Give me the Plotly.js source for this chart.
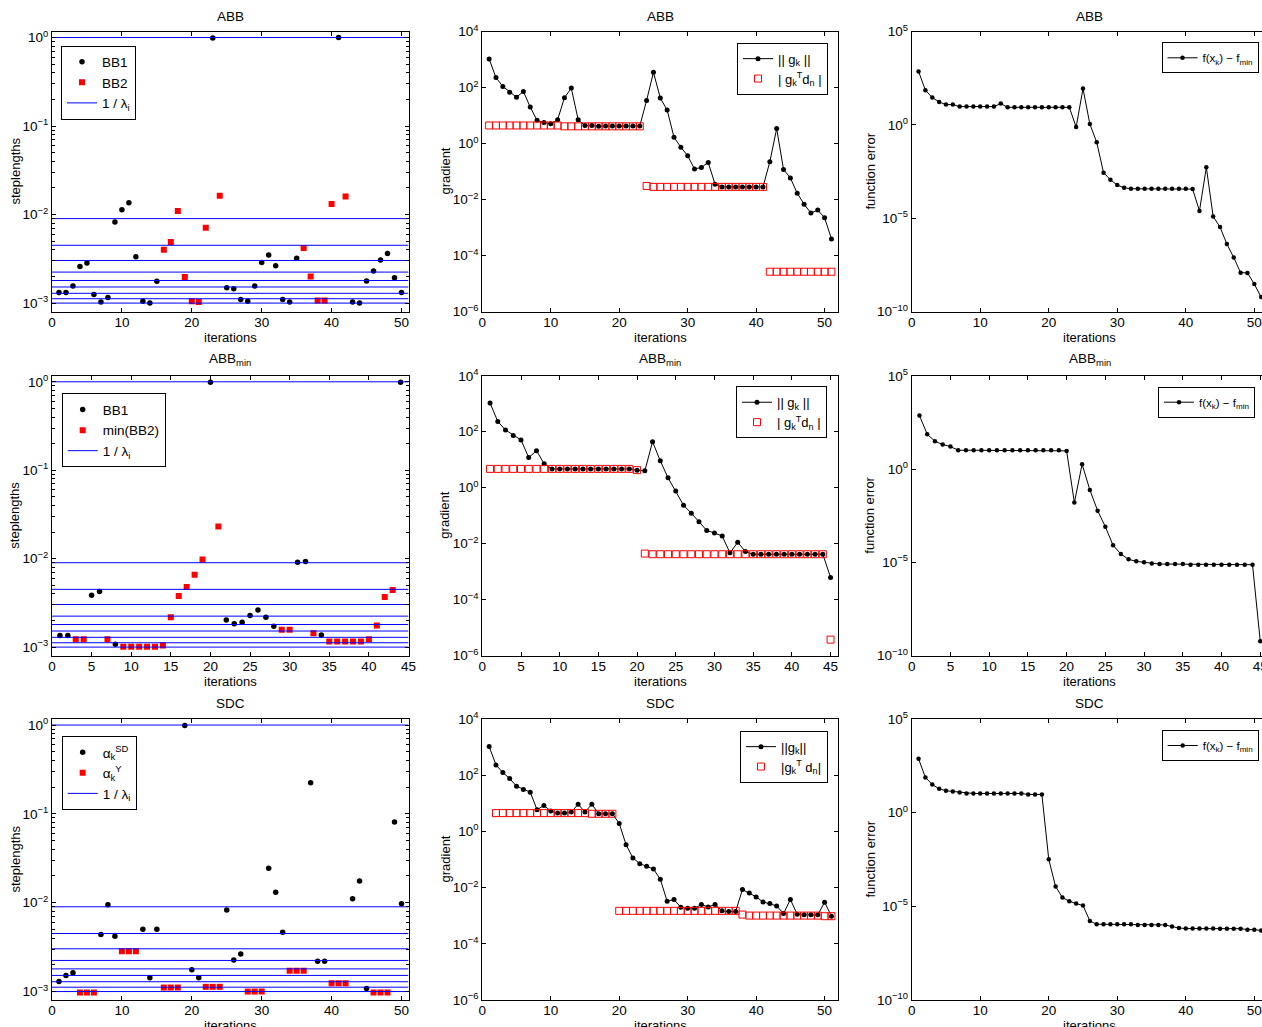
<!DOCTYPE html>
<html>
<head>
<meta charset="utf-8">
<script src="https://cdn.plot.ly/plotly-3.0.1.min.js"></script>
<style>
html,body{margin:0;padding:0;overflow:hidden;background:#ffffff;}
#chart{width:1270px;height:1027px;}
</style>
</head>
<body>
<div id="chart"></div>
<script>
// ---------------- DATA ----------------
// inverse eigenvalues 1/lambda_i (horizontal reference lines)
const invEig = [1.0, 0.009, 0.0045, 0.00303, 0.00224, 0.0018, 0.00152, 0.00129, 0.00112, 0.001];

// ABB – steplengths
const abbBB1x = [1,2,3,4,5,6,7,8,9,10,11,12,13,14,15,23,25,26,27,28,29,30,31,32,33,34,35,41,43,44,45,46,47,48,49,50];
const abbBB1y = [0.00132,0.00132,0.00156,0.00259,0.00283,0.00125,0.00103,0.00116,0.00822,0.0113,0.0136,0.00334,0.00105,0.001,0.00177,0.99,0.00149,0.00145,0.0011,0.00105,0.00156,0.00288,0.00349,0.00264,0.0011,0.00103,0.0032,1.0,0.00103,0.001,0.00178,0.0023,0.00306,0.00364,0.00193,0.00132];
const abbBB2x = [16,17,18,19,20,21,22,24,36,37,38,39,40,42];
const abbBB2y = [0.00401,0.00489,0.011,0.00197,0.00105,0.00103,0.0071,0.0163,0.00418,0.002,0.00107,0.00107,0.0132,0.016];

// ABB – gradient
const abbGradNorm = [1040,226,109,68,45,72,20,6.7,5.6,5.1,7.1,43,95,7.1,4.35,4.35,4.1,4.2,4.2,4.2,4.2,4.2,4.2,34.5,350,42,15.7,1.68,0.74,0.365,0.123,0.14,0.21,0.035,0.0282,0.0282,0.0282,0.0282,0.0282,0.0282,0.0282,0.223,3.4,0.119,0.0588,0.0168,0.00683,0.00327,0.00418,0.00223,0.000391];
const abbGTd = [4.4,4.4,4.4,4.4,4.4,4.4,4.4,4.4,4.4,4.4,4.4,4.1,4.1,4.1,4.1,4.1,4.1,4.1,4.1,4.1,4.1,4.1,4.1,0.0305,0.0282,0.0282,0.0282,0.0282,0.0282,0.0282,0.0282,0.0282,0.0282,0.0282,0.0282,0.0282,0.0282,0.0282,0.0282,0.0282,0.0282,2.63e-5,2.63e-5,2.63e-5,2.63e-5,2.63e-5,2.63e-5,2.63e-5,2.63e-5,2.63e-5,2.63e-5];

// ABB – function error
const abbFerr = [728,71.8,28.9,16.9,12.1,12.1,9.5,9.5,9.5,9.5,9.5,9.5,13.7,8.7,8.7,8.7,8.7,8.7,8.7,8.7,8.7,8.7,8.7,0.76,88,1.1,0.118,0.00274,0.00115,5.9e-4,4.26e-4,3.76e-4,3.76e-4,3.76e-4,3.76e-4,3.76e-4,3.76e-4,3.76e-4,3.76e-4,3.76e-4,3.6e-4,2.45e-5,0.0053,1.21e-5,3.37e-6,4.1e-7,7.8e-8,1.2e-8,1.17e-8,2.98e-9,5.9e-10];

// ABBmin – steplengths
const abbmBB1x = [1,2,5,6,8,20,22,23,24,25,26,27,28,31,32,34,44];
const abbmBB1y = [0.00135,0.00135,0.00385,0.00424,0.00108,0.99,0.00202,0.00184,0.00191,0.00227,0.00263,0.00217,0.00172,0.00912,0.00927,0.00137,0.99];
const abbmBB2x = [3,4,7,9,10,11,12,13,14,15,16,17,18,19,21,29,30,33,35,36,37,38,39,40,41,42,43];
const abbmBB2y = [0.00123,0.00123,0.00123,0.00101,0.00101,0.00101,0.00101,0.00101,0.00104,0.00217,0.00379,0.00479,0.0066,0.00977,0.0231,0.00157,0.00157,0.00143,0.00116,0.00116,0.00116,0.00116,0.00116,0.00123,0.00175,0.00369,0.00443];

// ABBmin – gradient
const abbmGradNorm = [1070,233,115,74,51,11.9,21,7.1,4.7,4.7,4.7,4.7,4.7,4.7,4.7,4.7,4.7,4.7,4.7,4.24,4.0,44,9.1,2.26,0.76,0.236,0.123,0.06,0.0297,0.0239,0.0187,0.00467,0.0111,0.0052,0.00418,0.00418,0.00418,0.00418,0.00418,0.00418,0.00418,0.00418,0.00418,0.00418,6.2e-4];
const abbmGTd = [4.7,4.7,4.7,4.7,4.7,4.7,4.7,4.7,4.7,4.7,4.7,4.7,4.7,4.7,4.7,4.7,4.7,4.7,4.7,4.24,0.00442,0.00418,0.00418,0.00418,0.00418,0.00418,0.00418,0.00418,0.00418,0.00418,0.00418,0.00418,0.00418,0.00418,0.00418,0.00418,0.00418,0.00418,0.00418,0.00418,0.00418,0.00418,0.00418,0.00418,3.7e-6];

// ABBmin – function error
const abbmFerr = [741,73.8,31,20.6,16,10.2,10.2,10.2,10.2,10.2,10.2,10.2,10.2,10.2,10.2,10.2,10.2,10.2,10.2,9.4,0.0158,1.81,0.0757,0.00587,8.1e-4,8.1e-5,2.77e-5,1.43e-5,1.12e-5,9.9e-6,8.7e-6,8.0e-6,8.0e-6,8.0e-6,8.0e-6,7.4e-6,7.4e-6,7.4e-6,7.4e-6,7.4e-6,7.4e-6,7.4e-6,7.4e-6,7.4e-6,5.9e-10];

// SDC – steplengths
const sdcSDx = [1,2,3,7,8,9,13,14,15,19,20,21,25,26,27,31,32,33,37,38,39,43,44,45,49,50];
const sdcSDy = [0.0013,0.00152,0.00163,0.00438,0.0095,0.0042,0.00504,0.00143,0.00504,0.99,0.00176,0.00143,0.00826,0.00226,0.00265,0.0245,0.0131,0.00466,0.224,0.0022,0.0022,0.0111,0.0176,0.00108,0.0811,0.00975];
const sdcYx = [4,5,6,10,11,12,16,17,18,22,23,24,28,29,30,34,35,36,40,41,42,46,47,48];
const sdcYy = [0.000975,0.000975,0.000975,0.00284,0.00284,0.00284,0.00111,0.00111,0.00111,0.00113,0.00113,0.00113,0.001,0.001,0.001,0.00171,0.00171,0.00171,0.00124,0.00124,0.00124,0.000975,0.000975,0.000975];

// SDC – gradient
const sdcGradNorm = [1040,233,124,76,40.7,31,24.9,5.9,8.4,5.3,4.48,4.48,4.86,9.3,4.86,9.3,4.24,4.24,4.24,1.92,0.336,0.113,0.0711,0.0572,0.046,0.0198,0.00327,0.00375,0.002,0.00185,0.00185,0.00249,0.00206,0.00249,0.00149,0.00141,0.00141,0.0085,0.00647,0.00467,0.0031,0.0027,0.00223,0.00119,0.00375,0.00113,0.00107,0.00107,0.00107,0.00301,0.00096];
const sdcGTdx = [2,3,4,5,6,7,8,9,10,11,12,13,14,15,16,17,18,19,20,21,22,23,24,25,26,27,28,29,30,31,32,33,34,35,36,37,38,39,40,41,42,43,44,45,46,47,48,49,50,51];
const sdcGTd = [4.48,4.48,4.48,4.48,4.48,4.48,4.48,4.48,4.48,4.48,4.48,4.48,4.48,4.48,4.24,4.24,4.24,4.24,0.00149,0.00149,0.00149,0.00149,0.00149,0.00149,0.00149,0.00149,0.00149,0.00149,0.00149,0.00149,0.00149,0.00149,0.00149,0.00149,0.00149,0.00149,0.0011,0.00101,0.00101,0.00101,0.00101,0.00101,0.00101,0.00101,0.00101,0.00101,0.00101,0.00101,0.00096,0.00096];

// SDC – function error
const sdcFerr = [759,76,32,18.9,14.8,13.6,12,10.6,10.6,10.6,10.6,10.6,10.6,10.6,10.6,10.6,9.4,9.4,9.4,0.00329,1.14e-4,2.94e-5,1.87e-5,1.41e-5,1.1e-5,1.67e-6,1.1e-6,1.1e-6,1.1e-6,1.1e-6,1.1e-6,1.1e-6,1.02e-6,1.02e-6,1.02e-6,1.02e-6,1.02e-6,8.3e-7,7.0e-7,6.5e-7,6.5e-7,6.5e-7,6.5e-7,6.5e-7,6.4e-7,6.4e-7,6.4e-7,6.4e-7,5.7e-7,5.7e-7,5.1e-7];

// tick labels
const ySteplenTicks = [0.001, 0.01, 0.1, 1];
const ySteplenText = ['10<sup>−3</sup>','10<sup>−2</sup>','10<sup>−1</sup>','10<sup>0</sup>'];
const ySteplenMinor = [0.002,0.003,0.004,0.005,0.006,0.007,0.008,0.009,0.02,0.03,0.04,0.05,0.06,0.07,0.08,0.09,0.2,0.3,0.4,0.5,0.6,0.7,0.8,0.9];
const yGradTicks = [1e-6, 1e-4, 1e-2, 1, 1e2, 1e4];
const yGradText = ['10<sup>−6</sup>','10<sup>−4</sup>','10<sup>−2</sup>','10<sup>0</sup>','10<sup>2</sup>','10<sup>4</sup>'];
const yFerrTicks = [1e-10, 1e-5, 1, 1e5];
const yFerrText = ['10<sup>−10</sup>','10<sup>−5</sup>','10<sup>0</sup>','10<sup>5</sup>'];

const rowTitles = ['ABB', 'ABB<sub>min</sub>', 'SDC'];
const colYLabels = ['steplengths', 'gradient', 'function error'];
const xLabel = 'iterations';

// ---------------- LAYOUT ----------------
const FONT = '"Liberation Sans", Arial, Helvetica, sans-serif';
const W = 1270, H = 1027;
const colPx = [[52, 408.5], [482.3, 838.3], [911.7, 1268]];
const rowPx = [[31.5, 311.5], [375.8, 655.5], [719, 1000]];
const xRanges = [[[0,51],[0,52],[0,52]], [[0,45],[0,46],[0,46]], [[0,51],[0,52],[0,52]]];
const xDticks = [10, 5, 10];
const yRanges = [[-3.095, 0.068], [-6, 4], [-10, 5]];
const yTicks = [ySteplenTicks, yGradTicks, yFerrTicks];
const yTexts = [ySteplenText, yGradText, yFerrText];

const layout = {
  width: W, height: H,
  margin: {l:0, r:0, t:0, b:0},
  paper_bgcolor: '#ffffff', plot_bgcolor: '#ffffff',
  font: {family: FONT, size: 13, color: '#000000'},
  showlegend: true,
  annotations: []
};

function sfx(r, c) { const i = r*3 + c + 1; return i === 1 ? '' : String(i); }

for (let r = 0; r < 3; r++) {
  for (let c = 0; c < 3; c++) {
    const s = sfx(r, c);
    layout['xaxis' + s] = {
      domain: [colPx[c][0]/W, colPx[c][1]/W], anchor: 'y' + s,
      range: xRanges[r][c], tick0: 0, dtick: xDticks[r],
      ticks: 'inside', ticklen: 4, tickwidth: 1, tickcolor: '#000',
      showline: true, linecolor: '#000', linewidth: 1, mirror: 'ticks',
      showgrid: false, zeroline: false, tickfont: {size: 13.5},
      ticklabelstandoff: -2
    };
    const ya = {
      domain: [1 - rowPx[r][1]/H, 1 - rowPx[r][0]/H], anchor: 'x' + s,
      type: 'log', range: yRanges[c],
      tickmode: 'array', tickvals: yTicks[c], ticktext: yTexts[c],
      ticks: 'inside', ticklen: 4, tickwidth: 1, tickcolor: '#000',
      showline: true, linecolor: '#000', linewidth: 1, mirror: 'ticks',
      showgrid: false, zeroline: false, tickfont: {size: 13.5}
    };
    if (c === 0) {
      ya.minor = {tickmode: 'array', tickvals: ySteplenMinor, ticks: 'inside', ticklen: 2.5, tickcolor: '#000', showgrid: false};
    }
    layout['yaxis' + s] = ya;

    // subplot title
    layout.annotations.push({
      text: rowTitles[r], xref: 'paper', yref: 'paper',
      x: (colPx[c][0] + colPx[c][1]) / 2 / W, y: 1 - (rowPx[r][0] - 6) / H,
      xanchor: 'center', yanchor: 'bottom', showarrow: false,
      font: {size: 13.5}
    });
    // x label
    layout.annotations.push({
      text: xLabel, xref: 'paper', yref: 'paper',
      x: (colPx[c][0] + colPx[c][1]) / 2 / W, y: 1 - (rowPx[r][1] + 25.5) / H,
      xanchor: 'center', yanchor: 'middle', showarrow: false,
      font: {size: 13}
    });
    // y label
    const ylx = [15, 445, 870][c];
    layout.annotations.push({
      text: colYLabels[c], xref: 'paper', yref: 'paper', textangle: -90,
      x: ylx / W, y: 1 - (rowPx[r][0] + rowPx[r][1]) / 2 / H,
      xanchor: 'center', yanchor: 'middle', showarrow: false,
      font: {size: 13}
    });
  }
}

// legends
const legendBase = {bgcolor: '#ffffff', bordercolor: '#000', borderwidth: 1, tracegroupgap: 0, traceorder: 'normal'};
const legendPos = [
  {x: 61, y: 45.5, xa: 'left', fs: 13.5},
  {x: 828, y: 42.7, xa: 'right', fs: 13},
  {x: 1258.5, y: 42.3, xa: 'right', fs: 11.5},
  {x: 61.7, y: 393.3, xa: 'left', fs: 13.5},
  {x: 827, y: 386.3, xa: 'right', fs: 13},
  {x: 1255, y: 386.7, xa: 'right', fs: 11.5},
  {x: 61.7, y: 736, xa: 'left', fs: 13.5},
  {x: 828, y: 730.7, xa: 'right', fs: 13},
  {x: 1258.7, y: 730, xa: 'right', fs: 11.5}
];
legendPos.forEach((p, i) => {
  const key = i === 0 ? 'legend' : 'legend' + (i + 1);
  layout[key] = Object.assign({}, legendBase, {
    x: p.x / W, y: 1 - p.y / H, xanchor: p.xa, yanchor: 'top',
    font: {size: p.fs}
  });
});

// ---------------- TRACES ----------------
const traces = [];
function ax(r, c) { const s = sfx(r, c); return {xaxis: 'x' + s, yaxis: 'y' + s, legend: 'legend' + s}; }
function idx(arr) { return arr.map((_, i) => i + 1); }

function eigLines(r, c, xmax) {
  const xs = [], ys = [];
  invEig.forEach(v => { xs.push(0, xmax, null); ys.push(v, v, null); });
  return Object.assign({type: 'scatter', mode: 'lines', x: xs, y: ys, name: '1 / λ<sub>i</sub>',
    line: {color: '#0000ff', width: 1}, hoverinfo: 'skip'}, ax(r, c));
}
function dots(x, y, name, r, c) {
  return Object.assign({type: 'scatter', mode: 'markers', x: x, y: y, name: name,
    marker: {symbol: 'circle', size: 5.5, color: '#000'}}, ax(r, c));
}
function redSq(x, y, name, r, c) {
  return Object.assign({type: 'scatter', mode: 'markers', x: x, y: y, name: name,
    marker: {symbol: 'square', size: 6, color: '#ff0000'}}, ax(r, c));
}
function lineDots(x, y, name, r, c, sz) {
  return Object.assign({type: 'scatter', mode: 'lines+markers', x: x, y: y, name: name,
    line: {color: '#000', width: 1}, marker: {symbol: 'circle', size: sz, color: '#000'}}, ax(r, c));
}
function openSq(x, y, name, r, c) {
  return Object.assign({type: 'scatter', mode: 'markers', x: x, y: y, name: name,
    marker: {symbol: 'square-open', size: 7, color: '#ff0000', line: {width: 1, color: '#ff0000'}}}, ax(r, c));
}

// Row 1: ABB
traces.push(dots(abbBB1x, abbBB1y, 'BB1', 0, 0));
traces.push(redSq(abbBB2x, abbBB2y, 'BB2', 0, 0));
traces.push(eigLines(0, 0, xRanges[0][0][1]));
traces.push(lineDots(idx(abbGradNorm), abbGradNorm, '|| g<sub>k</sub> ||', 0, 1, 5));
traces.push(openSq(idx(abbGTd), abbGTd, '| g<sub>k</sub><sup>T</sup>d<sub>n</sub> |', 0, 1));
traces.push(lineDots(idx(abbFerr), abbFerr, 'f(x<sub>k</sub>) − f<sub>min</sub>', 0, 2, 4.5));

// Row 2: ABBmin
traces.push(dots(abbmBB1x, abbmBB1y, 'BB1', 1, 0));
traces.push(redSq(abbmBB2x, abbmBB2y, 'min(BB2)', 1, 0));
traces.push(eigLines(1, 0, xRanges[1][0][1]));
traces.push(lineDots(idx(abbmGradNorm), abbmGradNorm, '|| g<sub>k</sub> ||', 1, 1, 5));
traces.push(openSq(idx(abbmGTd), abbmGTd, '| g<sub>k</sub><sup>T</sup>d<sub>n</sub> |', 1, 1));
traces.push(lineDots(idx(abbmFerr), abbmFerr, 'f(x<sub>k</sub>) − f<sub>min</sub>', 1, 2, 4.5));

// Row 3: SDC
traces.push(dots(sdcSDx, sdcSDy, 'α<sub>k</sub><sup>SD</sup>', 2, 0));
traces.push(redSq(sdcYx, sdcYy, 'α<sub>k</sub><sup>Y</sup>', 2, 0));
traces.push(eigLines(2, 0, xRanges[2][0][1]));
traces.push(lineDots(idx(sdcGradNorm), sdcGradNorm, '||g<sub>k</sub>||', 2, 1, 5));
traces.push(openSq(sdcGTdx, sdcGTd, '|g<sub>k</sub><sup>T</sup> d<sub>n</sub>|', 2, 1));
traces.push(lineDots(idx(sdcFerr), sdcFerr, 'f(x<sub>k</sub>) − f<sub>min</sub>', 2, 2, 4.5));

Plotly.newPlot('chart', traces, layout, {displayModeBar: false, staticPlot: true});
</script>
</body>
</html>
